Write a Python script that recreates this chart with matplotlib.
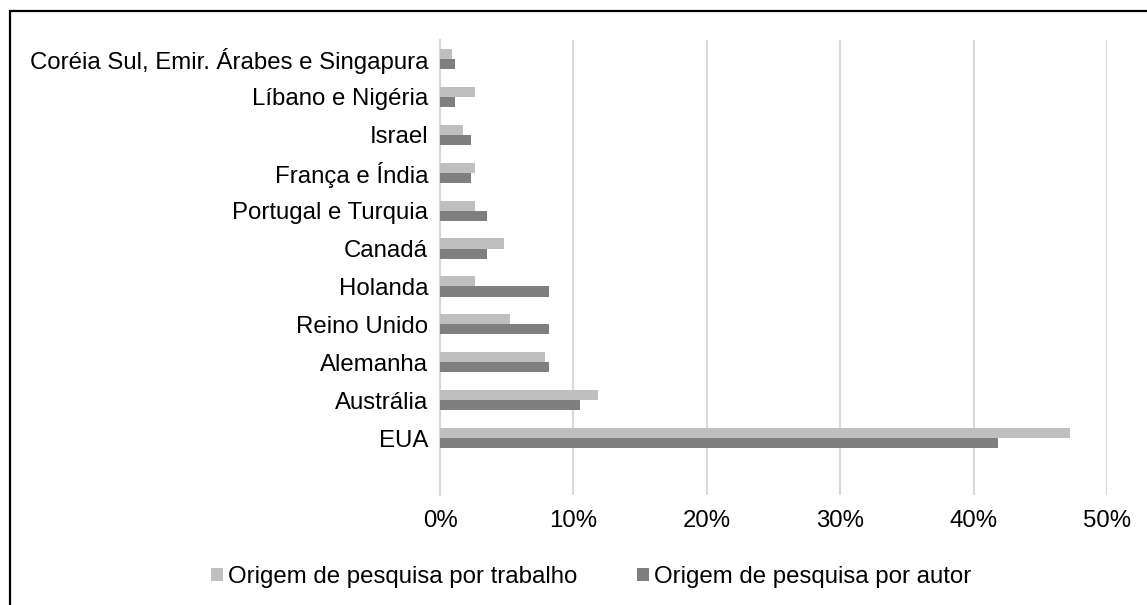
import matplotlib
matplotlib.use("Agg")
import matplotlib.pyplot as plt
from matplotlib.patches import Patch, Rectangle
import numpy as np

categories = ["Coréia Sul, Emir. Árabes e Singapura", "Líbano e Nigéria", "Israel",
              "França e Índia", "Portugal e Turquia", "Canadá", "Holanda",
              "Reino Unido", "Alemanha", "Austrália", "EUA"]
trabalho = [0.88, 2.63, 1.75, 2.63, 2.63, 4.8, 2.63, 5.26, 7.89, 11.84, 47.2]
autor = [1.16, 1.16, 2.33, 2.33, 3.49, 3.49, 8.14, 8.14, 8.14, 10.47, 41.86]
xticks = [0, 10, 20, 30, 40, 50]
series_names = ["Origem de pesquisa por trabalho", "Origem de pesquisa por autor"]

c_light = "#BFBFBF"
c_dark = "#7F7F7F"
grid_c = "#D9D9D9"
FS = 17.3

plt.rcParams['font.family'] = ['Liberation Sans', 'DejaVu Sans']

fig = plt.figure(figsize=(11.47, 6.05), dpi=100)
W, H = 1147, 605
ax = fig.add_axes([440 / W, 1 - 495 / H, (1107 - 440) / W, (495 - 40) / H])

y = np.arange(len(categories))
h = 0.265
ax.barh(y - h / 2, np.array(trabalho) / 100, height=h, color=c_light, zorder=3)
ax.barh(y + h / 2, np.array(autor) / 100, height=h, color=c_dark, zorder=3)

ax.set_ylim(len(categories) + 0.5, -0.5)
ax.set_xlim(0, 0.5)
ax.set_yticks(y)
ax.set_yticklabels(categories, fontsize=FS, color="#000000")
ax.set_xticks([t / 100 for t in xticks])
ax.set_xticklabels([f"{t}%" for t in xticks], fontsize=FS, color="#000000")
ax.tick_params(axis="both", length=0)
ax.tick_params(axis="y", pad=8.5)
ax.tick_params(axis="x", pad=11)
ax.grid(axis="x", color=grid_c, linewidth=1.5, zorder=0)
for s in ["top", "right", "bottom"]:
    ax.spines[s].set_visible(False)
ax.spines["left"].set_color(grid_c)
ax.spines["left"].set_linewidth(1.5)

handles = [Patch(facecolor=c_light, edgecolor="none"), Patch(facecolor=c_dark, edgecolor="none")]
fig.legend(handles, series_names, loc="center", bbox_to_anchor=(591 / W, 1 - 577 / H),
           ncol=2, frameon=False, fontsize=FS, handlelength=0.5, handleheight=0.5,
           handletextpad=0.2, columnspacing=2.5, borderpad=0, borderaxespad=0)

fig.patches.append(Rectangle((10 / W, 0 - 20 / H), 1.1, 1 - 11 / H + 20 / H,
                             transform=fig.transFigure, fill=False, edgecolor="black",
                             linewidth=1.6, zorder=10))

fig.savefig("out.png", dpi=100)
